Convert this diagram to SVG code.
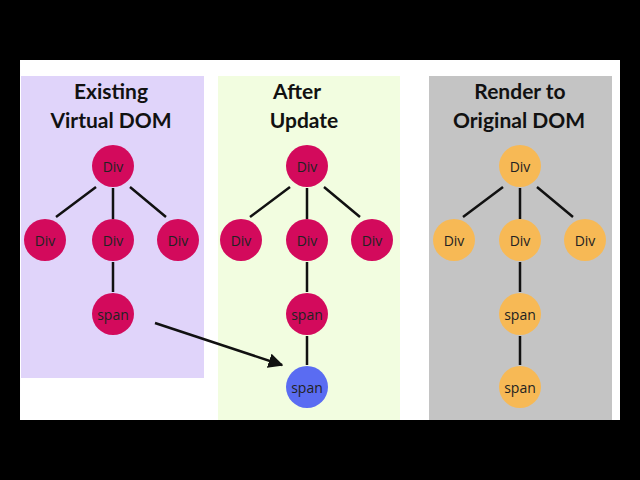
<svg xmlns="http://www.w3.org/2000/svg" width="640" height="480" viewBox="0 0 640 480">
<defs>
<style>
.n{stroke:none}
.r{fill:#d30a5c}.y{fill:#f7b955}.b{fill:#5a6cf2}
.t{font-family:"Open Sans","Liberation Sans",sans-serif;font-size:14px;fill:#222;text-anchor:middle;dominant-baseline:central}
.h{font-family:"Lato","Liberation Sans",sans-serif;font-weight:bold;font-size:21px;fill:#111;text-anchor:middle}
.e{stroke:#111;stroke-width:2.5;fill:none}
</style>
<marker id="a" viewBox="0 0 10 10" refX="9" refY="5" markerWidth="6" markerHeight="6" orient="auto"><path d="M0,0L10,5L0,10z" fill="#111"/></marker>
</defs>
<rect width="640" height="480" fill="#000"/>
<rect x="20" y="60" width="600" height="360" fill="#fff"/>
<rect x="21" y="76" width="183" height="302" fill="#e0d4fa"/>
<rect x="218" y="76" width="182" height="344" fill="#f2fde0"/>
<rect x="429" y="76" width="183" height="344" fill="#c4c4c4"/>
<text class="h" x="111" y="99">Existing</text><text class="h" x="111" y="128">Virtual DOM</text>
<text class="h" x="297" y="99">After</text><text class="h" x="304" y="128">Update</text>
<text class="h" x="520" y="99">Render to</text><text class="h" x="519" y="128">Original DOM</text>
<g id="connectors">
<path class="e" d="M96,187L56,217M113,188V219M130,187L166,217M113,262V292"/>
<path class="e" d="M290,187L250,217M307,188V219M324,187L360,217M307,262V292M307,336V365"/>
<path class="e" d="M503,187L463,217M520,188V219M537,187L573,217M520,262V292M520,336V365"/>
<path class="e" d="M155,323L282,365" stroke-width="2" marker-end="url(#a)"/>
</g>
<g id="p1">
<g id="a1"><circle class="r" cx="113" cy="166" r="21"/><text class="t" x="113" y="166">Div</text></g>
<g id="a2"><circle class="r" cx="45" cy="240" r="21"/><text class="t" x="45" y="240">Div</text></g>
<g id="a3"><circle class="r" cx="113" cy="240" r="21"/><text class="t" x="113" y="240">Div</text></g>
<g id="a4"><circle class="r" cx="178" cy="240" r="21"/><text class="t" x="178" y="240">Div</text></g>
<g id="a5"><circle class="r" cx="113" cy="314" r="21"/><text class="t" x="113" y="314">span</text></g>
</g>
<g id="p2">
<g id="b1"><circle class="r" cx="307" cy="166" r="21"/><text class="t" x="307" y="166">Div</text></g>
<g id="b2"><circle class="r" cx="241" cy="240" r="21"/><text class="t" x="241" y="240">Div</text></g>
<g id="b3"><circle class="r" cx="307" cy="240" r="21"/><text class="t" x="307" y="240">Div</text></g>
<g id="b4"><circle class="r" cx="372" cy="240" r="21"/><text class="t" x="372" y="240">Div</text></g>
<g id="b5"><circle class="r" cx="307" cy="314" r="21"/><text class="t" x="307" y="314">span</text></g>
<g id="b6"><circle class="b" cx="307" cy="387" r="21"/><text class="t" x="307" y="387">span</text></g>
</g>
<g id="p3">
<g id="c1"><circle class="y" cx="520" cy="166" r="21"/><text class="t" x="520" y="166">Div</text></g>
<g id="c2"><circle class="y" cx="454" cy="240" r="21"/><text class="t" x="454" y="240">Div</text></g>
<g id="c3"><circle class="y" cx="520" cy="240" r="21"/><text class="t" x="520" y="240">Div</text></g>
<g id="c4"><circle class="y" cx="585" cy="240" r="21"/><text class="t" x="585" y="240">Div</text></g>
<g id="c5"><circle class="y" cx="520" cy="314" r="21"/><text class="t" x="520" y="314">span</text></g>
<g id="c6"><circle class="y" cx="520" cy="387" r="21"/><text class="t" x="520" y="387">span</text></g>
</g>
</svg>
